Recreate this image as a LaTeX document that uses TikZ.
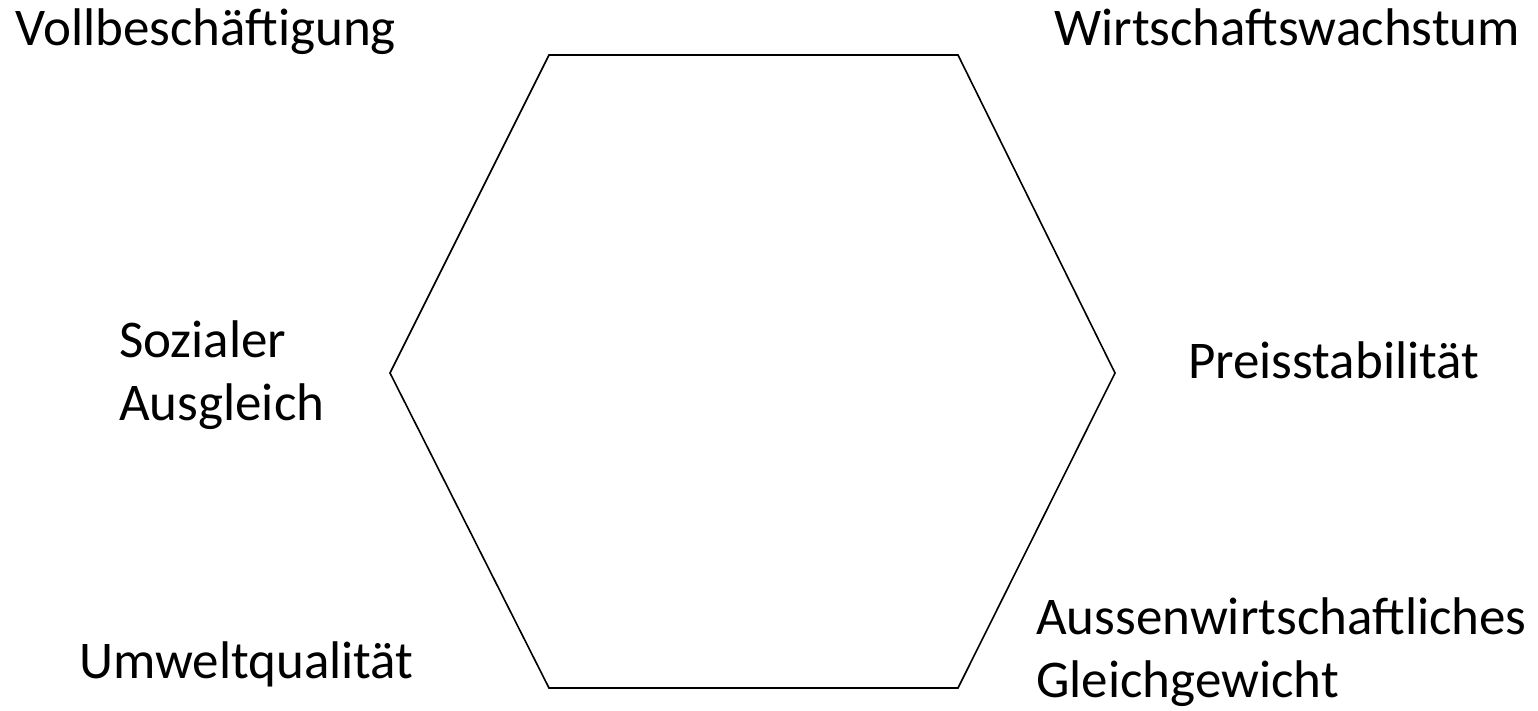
\documentclass[tikz,border=0pt]{standalone}
\usepackage{fontspec}
\setmainfont{Carlito}
\begin{document}
\begin{tikzpicture}[x=1pt,y=-1pt,
  lbl/.style={inner sep=0pt,anchor=base west,align=left,font=\fontsize{53}{63}\selectfont}]
\useasboundingbox (0,0) rectangle (1538,711);
\draw[line width=1.6pt,line join=miter]
  (549,55) -- (958,55) -- (1115,373) -- (958,688) -- (549,688) -- (390,373) -- cycle;
\node[lbl] (vb) at (15,46) {Vollbeschäftigung};
\node[lbl] (ww) at (1054,46) {Wirtschaftswachstum};
\node[lbl] (sa) at (119,420) {Sozialer\\Ausgleich};
\node[lbl] (ps) at (1188,378) {Preisstabilität};
\node[lbl] (uq) at (79,678) {Umweltqualität};
\node[lbl] (ag) at (1036,697) {Aussenwirtschaftliches\\Gleichgewicht};
\end{tikzpicture}
\end{document}
